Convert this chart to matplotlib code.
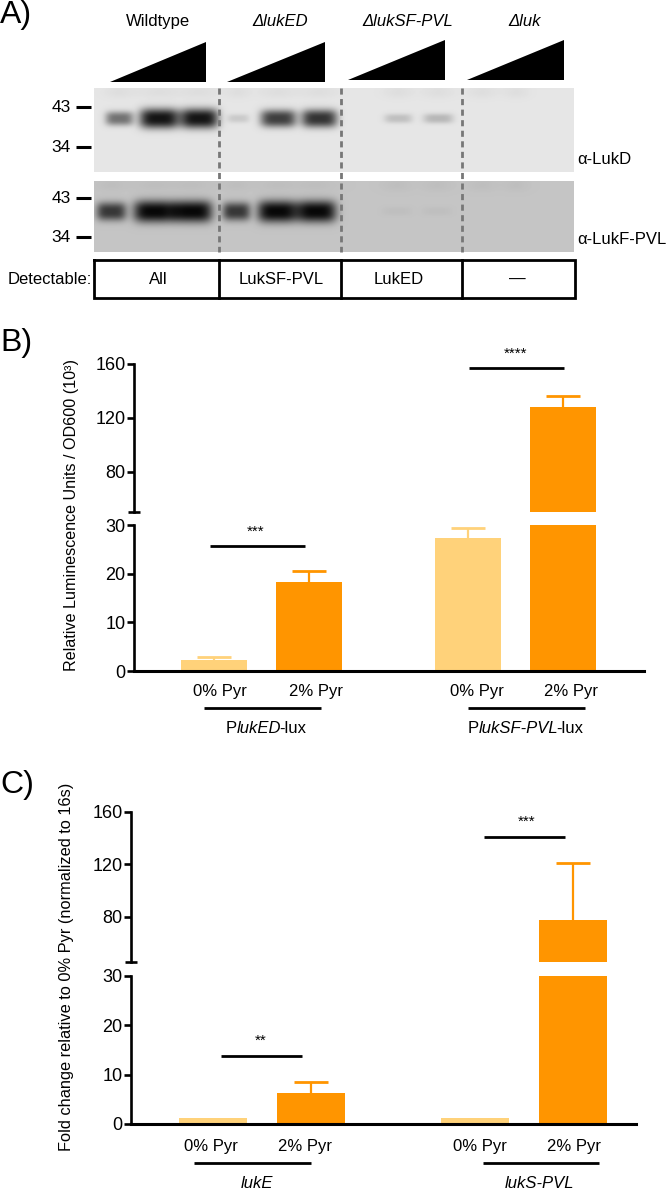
import matplotlib
matplotlib.use('Agg')
import matplotlib.pyplot as plt
import numpy as np

plt.rcParams['font.family'] = ['Liberation Sans', 'DejaVu Sans']

# panel B values
b_means = [2.2, 18.2, 27.4, 128]
b_tops = [2.9, 20.5, 29.3, 136]
# panel C values
c_means = [1.2, 6.2, 1.2, 77.7]
c_tops = [1.2, 8.5, 1.2, 121]

upper_ticks = [80, 120, 160]
lower_ticks = [0, 10, 20, 30]
pyr_labels = ['0% Pyr', '2% Pyr', '0% Pyr', '2% Pyr']

# panel A
strains = ['Wildtype', 'ΔlukED', 'ΔlukSF-PVL', 'Δluk']
detectable = ['All', 'LukSF-PVL', 'LukED', '—']
# blot band strength per lane (0-1)
lukd_bands = [0.55, 1, 1, 0.13, 0.8, 0.85, 0.18, 0.22, 0, 0]
lukf_bands = [0.75, 1, 1, 0.75, 1, 1, 0.03, 0.03, 0, 0]

DARK = '#ff9500'
LIGHT = '#ffd27a'
W, H = 666, 1195

fig = plt.figure(figsize=(W / 100, H / 100), dpi=100)
ov = fig.add_axes([0, 0, 1, 1], zorder=5)
ov.set_xlim(0, W)
ov.set_ylim(H, 0)
ov.axis('off')
ov.patch.set_alpha(0)


def px_axes(x0, x1, y0, y1):
    return fig.add_axes([x0 / W, 1 - y1 / H, (x1 - x0) / W, (y1 - y0) / H])


def mixed_text(x, y, pieces, fontsize=12):
    # centered run of upright and italic pieces
    items = [ov.text(0, y, s, style=st, fontsize=fontsize, va='center', ha='left') for s, st in pieces]
    r = fig.canvas.get_renderer()
    widths = [t.get_window_extent(r).width - (1.5 if t.get_style() == 'italic' else 0) for t in items]
    cur = x - sum(widths) / 2
    for t, w in zip(items, widths):
        t.set_x(cur)
        cur += w


def blot(y_band, x0, x1, y0, y1, base, bands, lanes, spread, dark, smear):
    xx, yy = np.meshgrid(np.arange(x0, x1), np.arange(y0, y1))
    img = np.full(xx.shape, base, dtype=float)
    for (cx, hw), s in zip(lanes, bands):
        half = spread * (0.35 + 0.65 * s)
        shape = np.exp(-((xx - cx) / hw) ** 4) * np.exp(-(np.abs(yy - y_band) / half) ** 2.6)
        img -= (base - dark) * s * shape
        img -= smear * np.exp(-((xx - cx) / hw) ** 2) * np.exp(-((yy - y0 - 4) / 6) ** 2)
    ov.imshow(img, extent=[x0, x1, y1, y0], cmap='gray', vmin=0, vmax=1, aspect='auto', zorder=1, interpolation='bilinear')


def panel_a():
    d1 = [(119, 14), (159, 20), (199, 19), (238, 11), (278, 18), (319, 18), (398, 14), (438, 15), (482, 14), (516, 12)]
    d2 = [(111, 15), (154, 21), (192, 20), (236, 14), (277, 20), (316, 20), (397, 14), (437, 14), (482, 14), (516, 12)]
    blot(118, 94, 574, 88, 172, 0.9, lukd_bands, d1, 10, 0.08, 0.03)
    blot(211, 94, 574, 181, 252, 0.77, lukf_bands, d2, 11, 0.03, 0.025)
    ov.set_xlim(0, W)
    ov.set_ylim(H, 0)

    for (a, b, bot, top), name, cx in zip(
            [(110, 206, 82, 42), (227, 325, 82, 42), (347.5, 445, 80, 40), (467, 564, 80, 40)],
            strains, [158, 280, 408, 525]):
        ov.fill([a, b, b], [bot, bot, top], color='black', lw=0, zorder=2)
        if name == 'Wildtype':
            ov.text(cx, 21, name, fontsize=12, ha='center', va='center')
        else:
            ov.text(cx, 21, name, fontsize=12, ha='center', va='center', style='italic')

    for xp in [219, 341, 462]:
        ov.plot([xp, xp], [88, 252], color='#777777', lw=2, ls=(0, (2.2, 1.6)), zorder=3)

    for yp, lab in [(107, '43'), (147, '34'), (198, '43'), (237, '34')]:
        ov.plot([76, 91], [yp, yp], color='black', lw=2.2, solid_capstyle='butt', zorder=3)
        ov.text(71, yp, lab, fontsize=12.5, ha='right', va='center')
    ov.text(577, 159, 'α-LukD', fontsize=12, ha='left', va='center')
    ov.text(577, 239, 'α-LukF-PVL', fontsize=12, ha='left', va='center')

    ov.plot([94, 575, 575, 94, 94], [260, 260, 298, 298, 260], color='black', lw=2, solid_joinstyle='miter', zorder=3)
    for xp in [219, 341, 462]:
        ov.plot([xp, xp], [260, 298], color='black', lw=2, zorder=3)
    ov.text(92, 279, 'Detectable:', fontsize=12, ha='right', va='center')
    for cx, lab in zip([158, 281, 399, 517], detectable):
        ov.text(cx, 279, lab, fontsize=12, ha='center', va='center')


def bar_panel(means, tops, bar_left, spine_x, right_x, bar_w, y160, ybreak, y30, y0, low_upper):
    ax_hi = px_axes(spine_x, right_x, y160, ybreak)
    ax_lo = px_axes(spine_x, right_x, y30, y0)
    xs = [b + bar_w / 2 - spine_x for b in bar_left]
    colors = [LIGHT, DARK, LIGHT, DARK]
    for ax in (ax_hi, ax_lo):
        ax.bar(xs, means, width=bar_w, color=colors, zorder=2)
        for xv, m, t, c in zip(xs, means, tops, colors):
            if t > m:
                eb = ax.errorbar(xv, m, yerr=[[0], [t - m]], color=c, elinewidth=1.6, capsize=12,
                                 capthick=2, zorder=1)
                eb[1][0].set_visible(False)
        ax.set_xlim(0, right_x - spine_x)
        ax.set_xticks([])
        for s in ('top', 'right'):
            ax.spines[s].set_visible(False)
        ax.spines['left'].set_linewidth(1.9)
        ax.tick_params(axis='y', which='major', length=5, width=1.9, labelsize=13, pad=1)
        ax.tick_params(axis='y', which='minor', direction='inout', length=9, width=1.9)
    ax_hi.set_ylim(low_upper, 160)
    ax_hi.spines['bottom'].set_visible(False)
    ax_hi.set_yticks(upper_ticks)
    ax_hi.set_yticks([low_upper], minor=True)
    ax_lo.set_ylim(0, 30)
    ax_lo.spines['bottom'].set_linewidth(2.2)
    ax_lo.set_yticks(lower_ticks)
    ax_lo.set_yticks([30], minor=True)


panel_a()

bar_panel(b_means, b_tops, [180.5, 276, 434.5, 530], 134, 644, 66, 364, 512, 525, 671, 50)
bar_panel(c_means, c_tops, [179, 277, 440.5, 539], 131, 636, 68, 812, 962, 976, 1124, 45.5)

for xp, yp, s in [(0, 15, 'A)'), (0, 343, 'B)'), (0, 785, 'C)')]:
    ov.text(xp, yp, s, fontsize=23, ha='left', va='center')

ov.text(72, 515, 'Relative Luminescence Units / OD600 (10³)', rotation=90, fontsize=11.6,
        ha='center', va='center')
ov.text(67, 967, 'Fold change relative to 0% Pyr (normalized to 16s)', rotation=90, fontsize=11.8,
        ha='center', va='center')

# significance bars, stars, lower labels
for x0, x1, yp, sx, sy, s in [(210, 304.6, 546, 256, 532, '***'), (469.4, 563.7, 368, 516, 354, '****'),
                              (221, 301.6, 1055.7, 261, 1041, '**'), (484, 565, 836.7, 527, 822, '***')]:
    ov.plot([x0, x1], [yp, yp], color='black', lw=2, solid_capstyle='butt')
    ov.text(sx, sy, s, fontsize=11, ha='center', va='center')

for yp, centers in [(691, [219.6, 315.6, 476.6, 570.5]), (1147, [211, 305, 480, 574])]:
    for cx, lab in zip(centers, pyr_labels):
        ov.text(cx, yp, lab, fontsize=12, ha='center', va='center')

for x0, x1, yp in [(204, 321, 707.7), (468, 585, 707.7), (194, 311, 1163), (482.6, 599.4, 1163)]:
    ov.plot([x0, x1], [yp, yp], color='black', lw=2, solid_capstyle='butt')

mixed_text(266, 728, [('P', 'normal'), ('lukED', 'italic'), ('-lux', 'normal')])
mixed_text(525.5, 728, [('P', 'normal'), ('lukSF-PVL', 'italic'), ('-lux', 'normal')])
ov.text(257, 1184, 'lukE', fontsize=12, style='italic', ha='center', va='center')
ov.text(539.5, 1184, 'lukS-PVL', fontsize=12, style='italic', ha='center', va='center')

fig.savefig('out.png', dpi=100)
